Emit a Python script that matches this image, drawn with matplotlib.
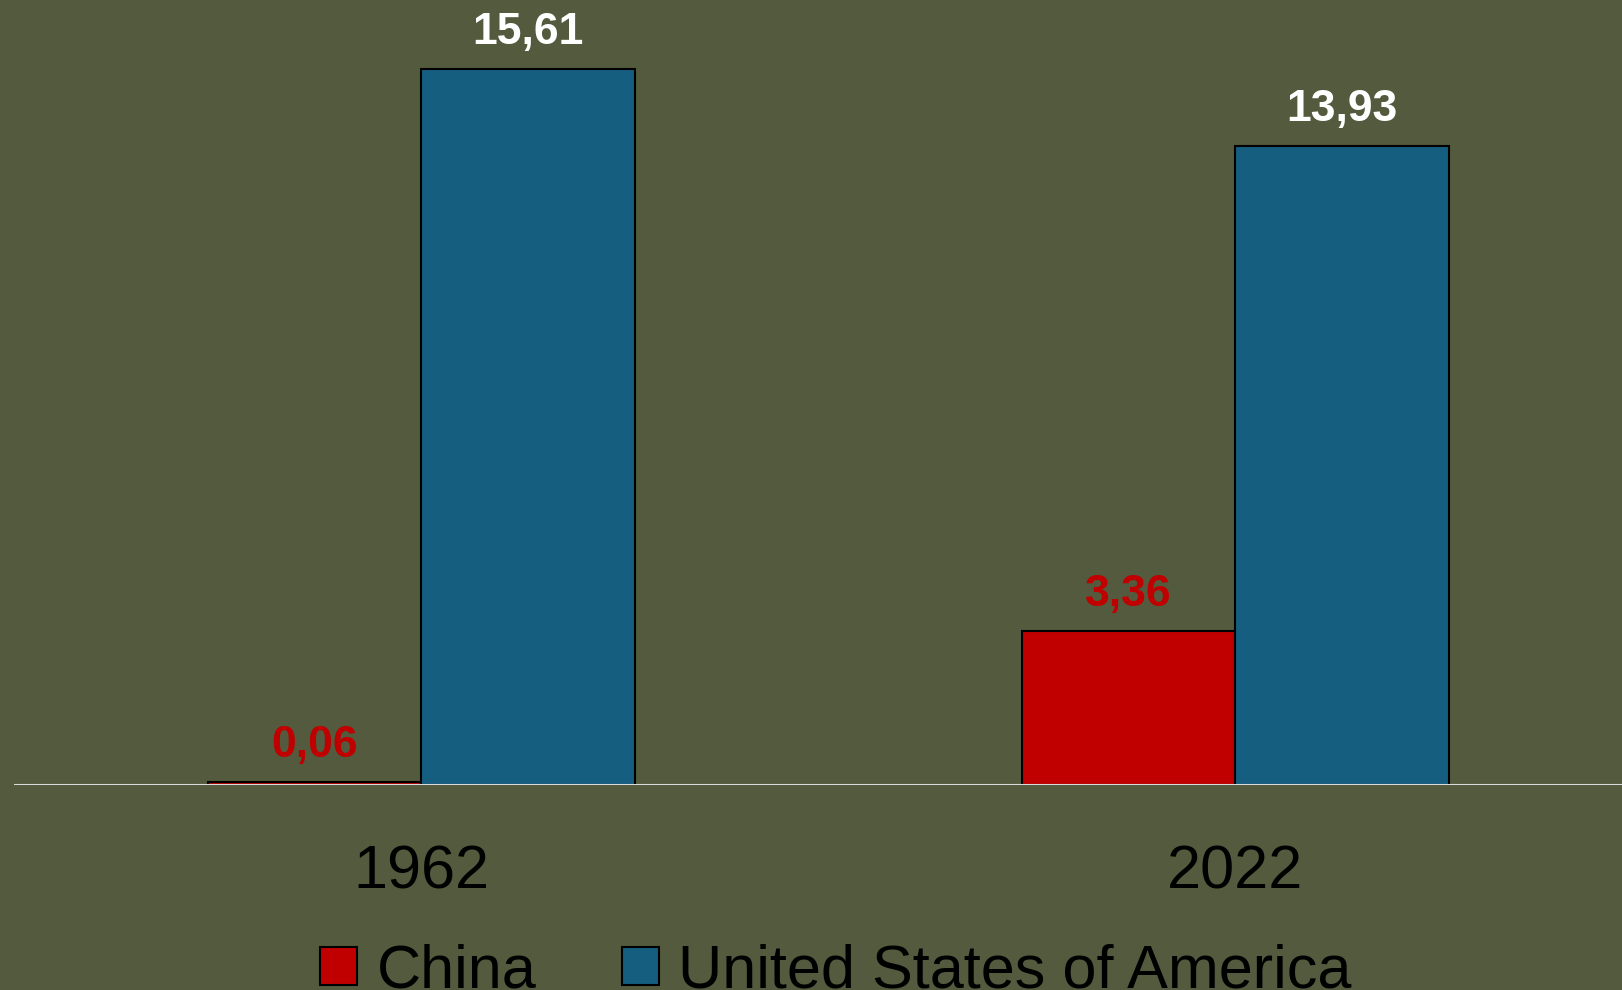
import matplotlib.pyplot as plt
from matplotlib.patches import Patch

# values
years = ['1962', '2022']
china = [0.06, 3.36]
usa = [15.61, 13.93]
series_names = ['China', 'United States of America']

BG = '#535A3D'
RED = '#C00000'
BLUE = '#165E80'


def fmt(v):
    return f"{v:.2f}".replace('.', ',')


fig = plt.figure(figsize=(16.22, 9.9), dpi=100, facecolor=BG)
ax = fig.add_axes([14 / 1622, 1 - 785 / 990, 1 - 14 / 1622, 785 / 990])
ax.set_facecolor(BG)

w = 0.2623
x = list(range(len(years)))
b1 = ax.bar([i - w / 2 for i in x], china, width=w, color=RED,
            edgecolor='black', linewidth=1.5, zorder=2)
b2 = ax.bar([i + w / 2 for i in x], usa, width=w, color=BLUE,
            edgecolor='black', linewidth=1.5, zorder=2)

for rect, v in zip(b1, china):
    ax.annotate(fmt(v), (rect.get_x() + rect.get_width() / 2, v),
                xytext=(0, 18), textcoords='offset points',
                ha='center', va='baseline', fontsize=32, fontweight='bold',
                color=RED, family='Liberation Sans')
for rect, v in zip(b2, usa):
    ax.annotate(fmt(v), (rect.get_x() + rect.get_width() / 2, v),
                xytext=(0, 18), textcoords='offset points',
                ha='center', va='baseline', fontsize=32, fontweight='bold',
                color='white', family='Liberation Sans')

ax.axhline(0, color='#D9D9D9', linewidth=1.5, zorder=3)

ax.set_xlim(-0.5, 1.475)
ax.set_ylim(0, 785 / 45.9)
ax.set_xticks(x)
ax.set_xticklabels(years, fontsize=44, family='Liberation Sans', color='black')
ax.tick_params(axis='x', length=0, pad=43)
ax.set_yticks([])
for s in ax.spines.values():
    s.set_visible(False)

handles = [Patch(facecolor=RED, edgecolor='black', linewidth=1.5),
           Patch(facecolor=BLUE, edgecolor='black', linewidth=1.5)]
fig.legend(handles, series_names, loc='center', ncol=2,
           bbox_to_anchor=(836 / 1622, 1 - 972 / 990),
           frameon=False, borderpad=0, borderaxespad=0,
           prop={'family': 'Liberation Sans', 'size': 44},
           handlelength=0.6, handleheight=0.57, handletextpad=0.32,
           columnspacing=1.4)

fig.savefig('out.png', dpi=100, facecolor=BG)
